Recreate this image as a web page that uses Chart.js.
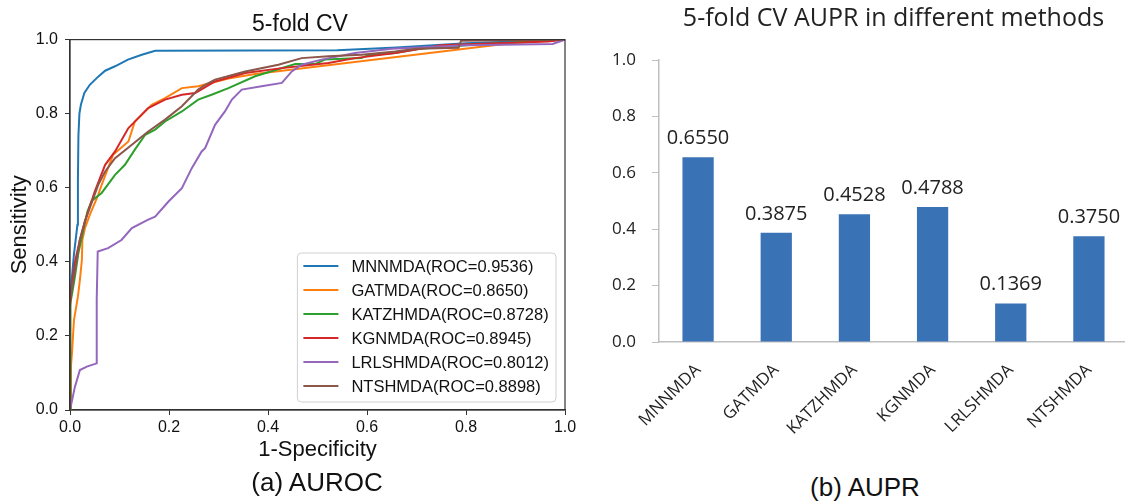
<!DOCTYPE html>
<html>
<head>
<meta charset="utf-8">
<script src="https://cdn.jsdelivr.net/npm/chart.js@4.4.1/dist/chart.umd.min.js"></script>
<style>
  html, body { margin: 0; padding: 0; background: #fff; overflow: hidden; width: 1125px; height: 502px; }
  #roc { position: absolute; left: 0; top: 0; }
  #pr { position: absolute; left: 600px; top: 0; }
  .cap { position: absolute; font-family: "Liberation Sans", Arial, sans-serif; font-size: 26px; color: #111;
         white-space: nowrap; transform: translate(-50%, -50%); line-height: 30px; }
</style>
</head>
<body>
<canvas id="roc" width="600" height="470"></canvas>
<canvas id="pr" width="530" height="470"></canvas>
<div class="cap" style="left:317px; top:482px">(a) AUROC</div>
<div class="cap" style="left:865px; top:487px">(b) AUPR</div>

<script>
// ---- ROC curves (left panel) ----
const rocMethods = ['MNNMDA', 'GATMDA', 'KATZHMDA', 'KGNMDA', 'LRLSHMDA', 'NTSHMDA'];
const rocAuc = [0.9536, 0.8650, 0.8728, 0.8945, 0.8012, 0.8898];
const rocColors = ['#1f77b4', '#ff7f0e', '#2ca02c', '#d62728', '#9467bd', '#8c564b'];
const rocTicks = [0, 0.2, 0.4, 0.6, 0.8, 1.0];

const mnnmdaFpr = [0, 0, 0.004, 0.008, 0.015, 0.016, 0.017, 0.019, 0.022, 0.029, 0.040, 0.057, 0.071, 0.091, 0.117, 0.145, 0.172, 0.54, 0.66, 0.80, 1.0];
const mnnmdaTpr = [0, 0.30, 0.36, 0.42, 0.50, 0.62, 0.74, 0.80, 0.824, 0.856, 0.878, 0.90, 0.916, 0.928, 0.946, 0.959, 0.970, 0.971, 0.979, 0.99, 1.0];

const gatmdaFpr = [0, 0.002, 0.004, 0.008, 0.016, 0.020, 0.024, 0.025, 0.030, 0.040, 0.057, 0.064, 0.087, 0.118, 0.131, 0.165, 0.192, 0.226, 0.259, 0.32, 0.374, 0.89, 1.0];
const gatmdaTpr = [0, 0.12, 0.154, 0.243, 0.306, 0.351, 0.405, 0.459, 0.49, 0.527, 0.581, 0.608, 0.689, 0.725, 0.779, 0.824, 0.842, 0.869, 0.874, 0.895, 0.907, 0.99, 1.0];

const katzhmdaFpr = [0, 0.001, 0.005, 0.010, 0.017, 0.027, 0.035, 0.044, 0.064, 0.091, 0.111, 0.131, 0.152, 0.172, 0.192, 0.226, 0.259, 0.286, 0.32, 0.374, 0.455, 0.495, 0.515, 0.589, 0.602, 0.657, 0.707, 0.80, 1.0];
const katzhmdaTpr = [0, 0.29, 0.32, 0.36, 0.424, 0.486, 0.535, 0.565, 0.586, 0.635, 0.662, 0.703, 0.743, 0.757, 0.779, 0.806, 0.838, 0.851, 0.869, 0.901, 0.934, 0.934, 0.946, 0.950, 0.958, 0.964, 0.975, 0.985, 1.0];

const kgnmdaFpr = [0, 0, 0.003, 0.010, 0.020, 0.030, 0.050, 0.071, 0.091, 0.118, 0.138, 0.158, 0.192, 0.226, 0.253, 0.293, 0.354, 0.428, 0.522, 0.576, 0.657, 0.75, 0.966, 1.0];
const kgnmdaTpr = [0, 0.28, 0.324, 0.40, 0.46, 0.509, 0.59, 0.662, 0.698, 0.761, 0.788, 0.815, 0.838, 0.851, 0.856, 0.887, 0.91, 0.923, 0.937, 0.95, 0.964, 0.985, 0.995, 1.0];

const lrlshmdaFpr = [0, 0.010, 0.020, 0.034, 0.054, 0.054, 0.056, 0.077, 0.104, 0.125, 0.158, 0.172, 0.199, 0.226, 0.246, 0.266, 0.273, 0.293, 0.313, 0.327, 0.347, 0.387, 0.428, 0.448, 0.468, 0.508, 0.576, 0.65, 0.80, 0.975, 1.0];
const lrlshmdaTpr = [0, 0.063, 0.108, 0.117, 0.126, 0.30, 0.428, 0.437, 0.459, 0.491, 0.514, 0.522, 0.563, 0.599, 0.653, 0.698, 0.707, 0.77, 0.806, 0.838, 0.865, 0.874, 0.883, 0.914, 0.932, 0.946, 0.964, 0.975, 0.985, 0.988, 1.0];

const ntshmdaFpr = [0, 0, 0.007, 0.020, 0.030, 0.057, 0.071, 0.091, 0.125, 0.158, 0.192, 0.226, 0.259, 0.273, 0.293, 0.354, 0.421, 0.468, 0.522, 0.589, 0.657, 0.70, 0.785, 0.79, 1.0];
const ntshmdaTpr = [0, 0.30, 0.351, 0.46, 0.509, 0.608, 0.644, 0.68, 0.716, 0.752, 0.784, 0.82, 0.865, 0.878, 0.892, 0.914, 0.932, 0.95, 0.955, 0.959, 0.968, 0.975, 0.978, 0.997, 1.0];

const rocFpr = [mnnmdaFpr, gatmdaFpr, katzhmdaFpr, kgnmdaFpr, lrlshmdaFpr, ntshmdaFpr];
const rocTpr = [mnnmdaTpr, gatmdaTpr, katzhmdaTpr, kgnmdaTpr, lrlshmdaTpr, ntshmdaTpr];

// ---- AUPR bars (right panel) ----
const aprMethods = ['MNNMDA', 'GATMDA', 'KATZHMDA', 'KGNMDA', 'LRLSHMDA', 'NTSHMDA'];
const aprValues = [0.6550, 0.3875, 0.4528, 0.4788, 0.1369, 0.3750];
const aprTicks = [0, 0.2, 0.4, 0.6, 0.8, 1.0];

const ARIAL = '"Liberation Sans", Arial, sans-serif';
const SANS = '"Open Sans", "Noto Sans", sans-serif';

// box around the plotting area (all four spines)
const frameBox = {
  id: 'frameBox',
  afterDatasetsDraw(chart) {
    const a = chart.chartArea, ctx = chart.ctx;
    ctx.save();
    ctx.strokeStyle = '#333';
    ctx.lineWidth = 1.2;
    ctx.strokeRect(a.left, a.top, a.right - a.left, a.bottom - a.top);
    ctx.restore();
  }
};

// legend drawn inside the lower-right corner of the plot
const insetLegend = {
  id: 'insetLegend',
  afterDraw(chart) {
    const ctx = chart.ctx, a = chart.chartArea;
    const sets = chart.data.datasets;
    ctx.save();
    ctx.font = '16.5px ' + ARIAL;
    let tw = 0;
    sets.forEach(d => { tw = Math.max(tw, ctx.measureText(d.label).width); });
    const rowH = 24, padL = 6, lineLen = 35, gap = 13, padR = 7;
    const w = padL + lineLen + gap + tw + padR;
    const h = sets.length * rowH + 5;
    const right = a.right - 9, bottom = a.bottom - 8;
    const x = right - w, y = bottom - h;
    ctx.fillStyle = 'rgba(255,255,255,0.85)';
    ctx.strokeStyle = '#d0d0d0';
    ctx.lineWidth = 1;
    ctx.beginPath();
    ctx.roundRect(x, y, w, h, 4);
    ctx.fill();
    ctx.stroke();
    ctx.textBaseline = 'middle';
    ctx.textAlign = 'left';
    sets.forEach((d, i) => {
      const ry = y + 13 + i * rowH;
      ctx.strokeStyle = d.borderColor;
      ctx.lineWidth = 2;
      ctx.beginPath();
      ctx.moveTo(x + padL, ry);
      ctx.lineTo(x + padL + lineLen, ry);
      ctx.stroke();
      ctx.fillStyle = '#111';
      ctx.fillText(d.label, x + padL + lineLen + gap, ry + 1);
    });
    ctx.restore();
  }
};

new Chart(document.getElementById('roc'), {
  type: 'scatter',
  data: {
    datasets: rocMethods.map((m, i) => ({
      label: m + '(ROC=' + rocAuc[i].toFixed(4) + ')',
      data: rocFpr[i].map((x, j) => ({ x: x, y: rocTpr[i][j] })),
      showLine: true,
      borderColor: rocColors[i],
      backgroundColor: rocColors[i],
      borderWidth: 2,
      pointRadius: 0,
      fill: false,
      tension: 0,
      order: rocMethods.length - i
    }))
  },
  options: {
    responsive: false,
    animation: false,
    events: [],
    layout: { padding: 0 },
    plugins: {
      legend: { display: false },
      tooltip: { enabled: false },
      title: {
        display: true, text: '5-fold CV', color: '#111',
        font: { family: ARIAL, size: 23, weight: 'normal' },
        padding: { top: 11, bottom: 1 }
      }
    },
    scales: {
      x: {
        type: 'linear', min: 0, max: 1,
        afterBuildTicks: s => { s.ticks = rocTicks.map(v => ({ value: v })); },
        ticks: { callback: v => Number(v).toFixed(1), color: '#111', font: { family: ARIAL, size: 16 }, padding: 3, maxRotation: 0 },
        grid: { drawOnChartArea: false, drawTicks: true, tickLength: 5, color: '#333' },
        border: { color: '#333', width: 1.2 },
        title: { display: true, text: '1-Specificity', color: '#111', font: { family: ARIAL, size: 22 }, padding: { top: 0, bottom: 7 } },
        afterFit: s => { s.height = 60; }
      },
      y: {
        type: 'linear', min: 0, max: 1,
        afterBuildTicks: s => { s.ticks = rocTicks.map(v => ({ value: v })); },
        ticks: { callback: v => Number(v).toFixed(1), color: '#111', font: { family: ARIAL, size: 16 }, padding: 7 },
        grid: { drawOnChartArea: false, drawTicks: true, tickLength: 5, color: '#333' },
        border: { color: '#333', width: 1.2 },
        title: { display: true, text: 'Sensitivity', color: '#111', font: { family: ARIAL, size: 22 }, padding: { top: 7, bottom: 0 } },
        afterFit: s => { s.width = 70; }
      },
      yRight: {
        position: 'right', display: true,
        grid: { display: false }, border: { display: false }, ticks: { display: false },
        afterFit: s => { s.width = 35; }
      }
    }
  },
  plugins: [frameBox, insetLegend]
});

// value labels above each bar, taken from the bar's own value
const barValueLabels = {
  id: 'barValueLabels',
  afterDatasetsDraw(chart) {
    const ctx = chart.ctx;
    const meta = chart.getDatasetMeta(0);
    const vals = chart.data.datasets[0].data;
    ctx.save();
    ctx.font = '20px ' + SANS;
    ctx.fillStyle = '#222';
    ctx.textAlign = 'center';
    ctx.textBaseline = 'alphabetic';
    meta.data.forEach((bar, i) => {
      ctx.fillText(Number(vals[i]).toFixed(4), bar.x, bar.y - 13);
    });
    ctx.restore();
  }
};

new Chart(document.getElementById('pr'), {
  type: 'bar',
  data: {
    labels: aprMethods,
    datasets: [{
      label: 'AUPR',
      data: aprValues,
      backgroundColor: '#3a72b6',
      borderWidth: 0,
      categoryPercentage: 1.0,
      barPercentage: 0.4
    }]
  },
  options: {
    responsive: false,
    animation: false,
    events: [],
    layout: { padding: { left: 0, right: 2, top: 0, bottom: 0 } },
    plugins: {
      legend: { display: false },
      tooltip: { enabled: false },
      title: {
        display: true, fullSize: false, text: '5-fold CV AUPR in different methods', color: '#222',
        font: { family: SANS, size: 25, weight: 'normal' },
        padding: { top: 4, bottom: 26 }
      }
    },
    scales: {
      x: {
        ticks: { color: '#222', font: { family: SANS, size: 17 }, minRotation: 45, maxRotation: 45, padding: 10 },
        grid: { display: false },
        border: { display: true, color: '#bfbfbf', width: 1.5 },
        afterFit: s => { s.height = 128; }
      },
      y: {
        min: 0, max: 1,
        afterBuildTicks: s => { s.ticks = aprTicks.map(v => ({ value: v })); },
        ticks: { callback: v => Number(v).toFixed(1), color: '#222', font: { family: SANS, size: 17 }, padding: 16 },
        grid: { drawOnChartArea: false, drawTicks: true, tickLength: 7, color: '#bfbfbf' },
        border: { display: true, color: '#bfbfbf', width: 1.5 },
        afterFit: s => { s.width = 59; }
      }
    }
  },
  plugins: [barValueLabels]
});
</script>
</body>
</html>
